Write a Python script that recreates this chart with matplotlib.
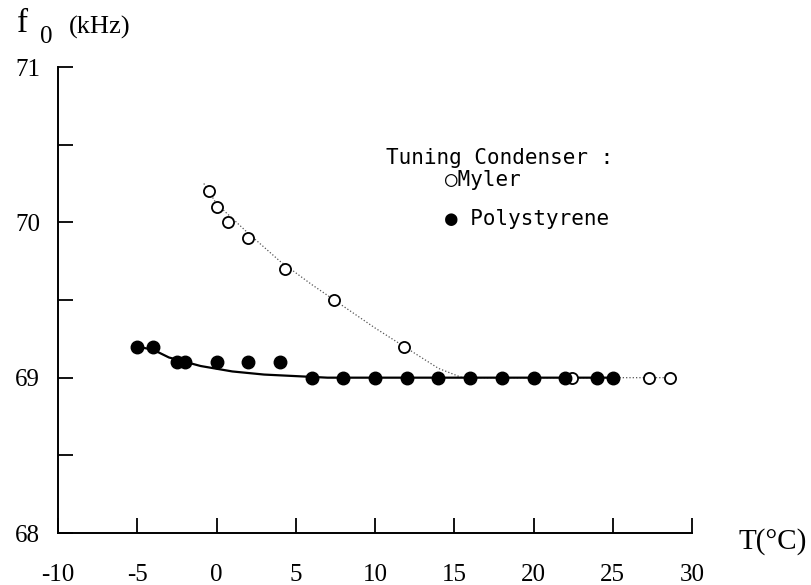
import matplotlib
matplotlib.use('Agg')
import matplotlib.pyplot as plt
from matplotlib.ticker import MultipleLocator

# data
myler_t = [-0.5, 0.0, 0.7, 2.0, 4.3, 7.4, 11.8, 22.4, 27.3, 28.6]
myler_f = [70.2, 70.1, 70.0, 69.9, 69.7, 69.5, 69.2, 69.0, 69.0, 69.0]
poly_t = [-5, -4, -2.5, -2, 0, 2, 4, 6, 8, 10, 12, 14, 16, 18, 20, 22, 24, 25]
poly_f = [69.2, 69.2, 69.1, 69.1, 69.1, 69.1, 69.1, 69.0, 69.0, 69.0,
          69.0, 69.0, 69.0, 69.0, 69.0, 69.0, 69.0, 69.0]

# hand-drawn fit curves
myler_fit_t = [-0.8, 0.0, 2.0, 4.0, 6.0, 8.0, 10.0, 12.0, 14.0, 15.5, 29.0]
myler_fit_f = [70.25, 70.12, 69.93, 69.75, 69.6, 69.46, 69.32, 69.19, 69.06, 69.0, 69.0]
poly_fit_t = [-5, -4, -3, -1, 1, 3, 5, 7, 25]
poly_fit_f = [69.2, 69.18, 69.13, 69.075, 69.04, 69.02, 69.01, 69.0, 69.0]

x_ticks = [-10, -5, 0, 5, 10, 15, 20, 25, 30]
y_ticks = [68, 69, 70, 71]

plt.rcParams['font.family'] = ['Liberation Serif', 'DejaVu Sans']
fig = plt.figure(figsize=(8.11, 5.85), dpi=100)
ax = fig.add_axes([58 / 811, (585 - 533) / 585, (692 - 58) / 811, (533 - 67) / 585])

ax.plot(myler_fit_t, myler_fit_f, ':', color='#555555', lw=0.9)
ax.plot(poly_fit_t, poly_fit_f, '-', color='black', lw=1.6)
ax.plot(myler_t, myler_f, 'o', mfc='white', mec='black', mew=1.3, ms=8, ls='none')
ax.plot(poly_t, poly_f, 'o', color='black', ms=9, ls='none')

ax.set_xlim(-10, 30)
ax.set_ylim(68, 71)
ax.spines['top'].set_visible(False)
ax.spines['right'].set_visible(False)
for s in ['left', 'bottom']:
    ax.spines[s].set_linewidth(1.4)

ax.set_xticks(x_ticks)
ax.set_xticklabels([str(v) for v in x_ticks])
ax.set_yticks(y_ticks)
ax.set_yticklabels([str(v) for v in y_ticks])
ax.yaxis.set_minor_locator(MultipleLocator(0.5))
ax.tick_params(axis='both', which='both', direction='in', width=1.3, length=11,
               labelsize=18)
ax.tick_params(axis='x', pad=22)
ax.tick_params(axis='y', pad=13)

fig.text(23 / 811, 1 - 24 / 585, 'f', fontsize=24, ha='center', va='center')
fig.text(46 / 811, 1 - 37 / 585, '0', fontsize=18, ha='center', va='center')
fig.text(100 / 811, 1 - 27 / 585, '(kHz)', fontsize=19, ha='center', va='center')
fig.text(773 / 811, 1 - 542 / 585, 'T(°C)', fontsize=21, ha='center', va='center')

mono = 'DejaVu Sans Mono'
fig.text(386 / 811, 1 - 158 / 585, 'Tuning Condenser :', family=mono,
         fontsize=15, ha='left', va='center')
fig.text(445 / 811, 1 - 180 / 585, '○Myler', family=mono,
         fontsize=15, ha='left', va='center')
fig.text(445 / 811, 1 - 219 / 585, '● Polystyrene', family=mono,
         fontsize=15, ha='left', va='center')

plt.savefig('out.png', dpi=100)
plt.close()
